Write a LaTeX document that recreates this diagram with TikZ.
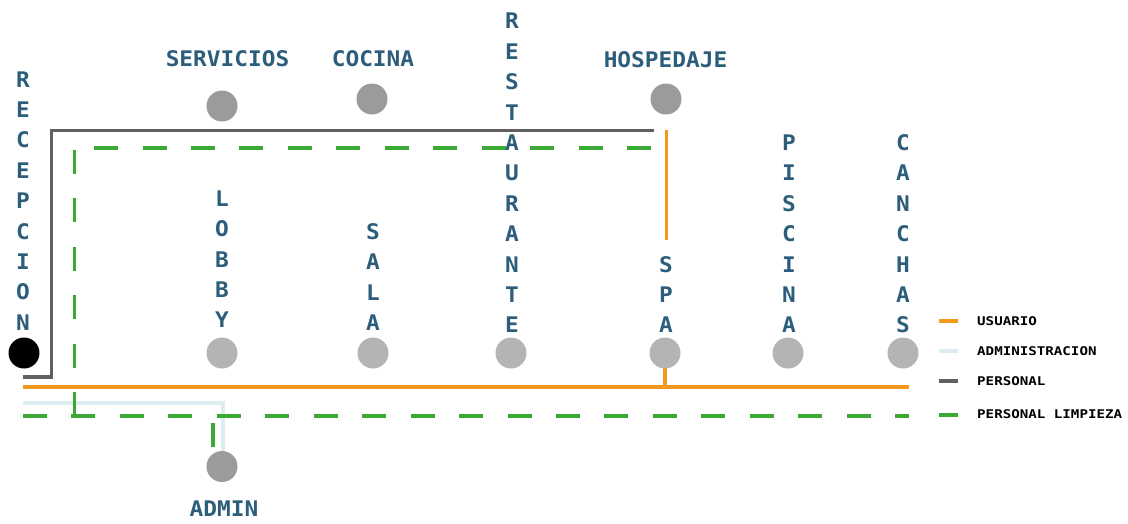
\documentclass[tikz,border=0pt]{standalone}
\usepackage{fontspec}
\usetikzlibrary{backgrounds}
\newfontfamily\lblfont{DejaVu Sans Mono}[FakeStretch=1.06]
\newfontfamily\legfont{DejaVu Sans Mono}[FakeStretch=1.18]
\definecolor{lbl}{RGB}{44,94,124}
\definecolor{cusuario}{RGB}{245,152,30}
\definecolor{cadmin}{RGB}{220,238,241}
\definecolor{cpersonal}{RGB}{96,96,96}
\definecolor{climpieza}{RGB}{58,170,53}
\definecolor{darkdot}{RGB}{155,155,155}
\definecolor{lightdot}{RGB}{180,180,180}
\tikzset{
  hlabel/.style={font=\lblfont\bfseries\fontsize{21.5}{30.4}\selectfont, text=lbl, inner sep=0pt},
  vlabel/.style={hlabel, align=center},
  dotdark/.style={circle, fill=darkdot, minimum size=31pt, inner sep=0pt},
  dotlight/.style={circle, fill=lightdot, minimum size=31pt, inner sep=0pt},
  dotblack/.style={circle, fill=black, minimum size=31pt, inner sep=0pt},
  usuario/.style={draw=cusuario, line width=3.2pt},
  adminline/.style={draw=cadmin, line width=3.2pt},
  personal/.style={draw=cpersonal, line width=3.6pt},
  limpieza/.style={draw=climpieza, line width=3.2pt, dash pattern=on 24pt off 24.45pt},
  legline/.style={line width=4pt},
  legtext/.style={font=\legfont\bfseries\fontsize{12}{14}\selectfont, text=black, inner sep=0pt, anchor=west}
}
\begin{document}
\begin{tikzpicture}[x=1pt,y=-1pt]
\useasboundingbox (0,0) rectangle (1128,523);

% stations
\node[dotblack] (recepcion) at (24,353) {};
\node[dotdark] (servicios) at (222,106) {};
\node[dotdark] (cocina) at (372,99) {};
\node[dotdark] (hospedaje) at (666,99) {};
\node[dotlight] (lobby) at (222,353) {};
\node[dotlight] (sala) at (373,353) {};
\node[dotlight] (restaurante) at (511,353) {};
\node[dotlight] (spa) at (665,353) {};
\node[dotlight] (piscina) at (788,353) {};
\node[dotlight] (canchas) at (903,353) {};
\node[dotdark] (admin) at (222,466.5) {};

% labels
\node[hlabel] (lservicios) at (227.5,58.5) {SERVICIOS};
\node[hlabel] (lcocina) at (373,58.5) {COCINA};
\node[hlabel] (lhospedaje) at (665.5,59.5) {HOSPEDAJE};
\node[hlabel] (ladmin) at (224,508.5) {ADMIN};
\node[vlabel] (lrecepcion) at (23,200.9) {R\\E\\C\\E\\P\\C\\I\\O\\N};
\node[vlabel] (llobby) at (222,259.2) {L\\O\\B\\B\\Y};
\node[vlabel] (lsala) at (373,276.9) {S\\A\\L\\A};
\node[vlabel] (lrestaurante) at (512,173) {R\\E\\S\\T\\A\\U\\R\\A\\N\\T\\E};
\node[vlabel] (lspa) at (666,294.6) {S\\P\\A};
\node[vlabel] (lpiscina) at (789,233.8) {P\\I\\S\\C\\I\\N\\A};
\node[vlabel] (lcanchas) at (903,233.8) {C\\A\\N\\C\\H\\A\\S};

% route coordinates
\coordinate (pstart) at (23,377);
\coordinate (pc1) at (51.5,377);
\coordinate (pc2) at (51.5,130.5);
\coordinate (pend) at (654,130.5);
\coordinate (ustart) at (23,387);
\coordinate (uend) at (909,387);
\coordinate (uh1) at (666.5,130);
\coordinate (uh2) at (666.5,240);
\coordinate (astart) at (23,403);
\coordinate (ac) at (223,403);
\coordinate (lstart) at (23,416);
\coordinate (lend) at (909,416);
\coordinate (lv1) at (74.3,416);
\coordinate (lv2) at (74.3,148);
\coordinate (lh1) at (651,148);
\coordinate (la1) at (213,447);
\coordinate (la2) at (213,416);

\begin{pgfonlayer}{background}
\draw[usuario] (ustart) -- (uend);
\draw[usuario] (spa.center) -- (spa.center |- ustart);
\draw[usuario] (uh1) -- (uh2);
\draw[adminline] (astart) -- (ac) -- (ac |- admin.center);
\draw[limpieza] (lstart) -- (lend);
\draw[limpieza] (lv1) -- (lv2);
\draw[limpieza] (lh1) -- (lv2);
\draw[limpieza] (la1) -- (la2);
\draw[personal] (pstart) -- (pc1) -- (pc2) -- (pend);
\end{pgfonlayer}

% legend
\coordinate (k1a) at (939,321); \coordinate (k1b) at (958,321);
\coordinate (k2a) at (939,351); \coordinate (k2b) at (958,351);
\coordinate (k3a) at (939,381); \coordinate (k3b) at (958,381);
\coordinate (k4a) at (939,415); \coordinate (k4b) at (958,415);
\draw[legline, cusuario] (k1a) -- (k1b);
\draw[legline, cadmin] (k2a) -- (k2b);
\draw[legline, cpersonal] (k3a) -- (k3b);
\draw[legline, climpieza] (k4a) -- (k4b);
\node[legtext] (tusuario) at (977,321.5) {USUARIO};
\node[legtext] (tadmin) at (977,351.5) {ADMINISTRACION};
\node[legtext] (tpersonal) at (977,381.5) {PERSONAL};
\node[legtext] (tlimpieza) at (977,414.5) {PERSONAL LIMPIEZA};
\end{tikzpicture}
\end{document}
